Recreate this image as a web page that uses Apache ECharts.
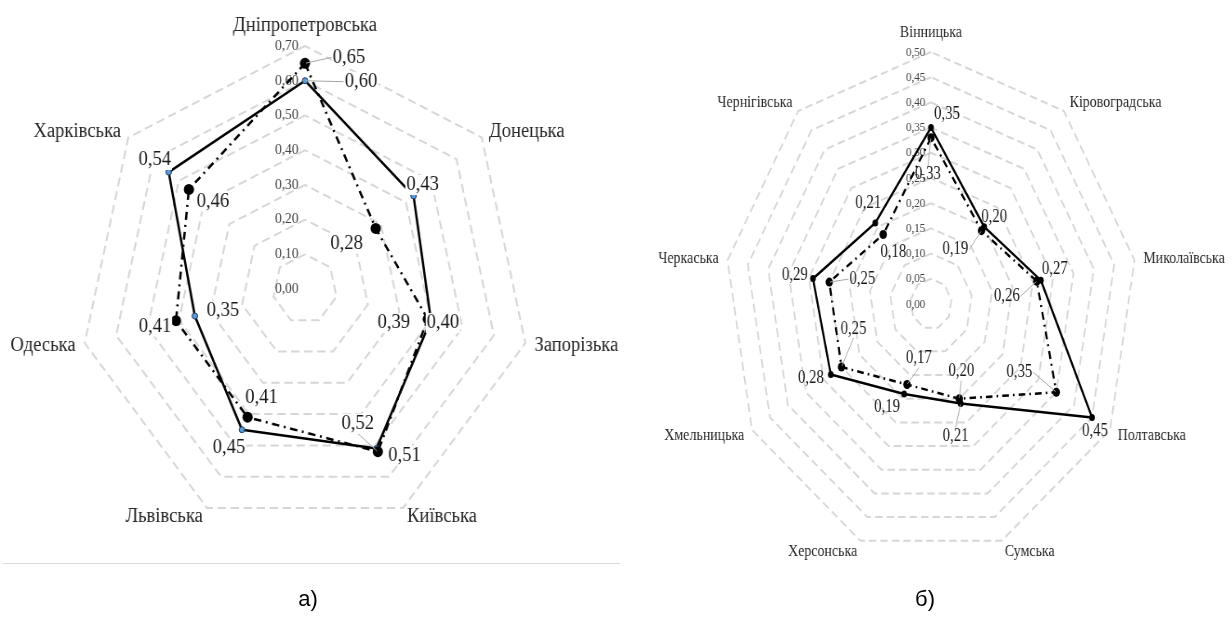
<!DOCTYPE html>
<html>
<head>
<meta charset="utf-8">
<title>Radar charts</title>
<script src="https://cdn.jsdelivr.net/npm/echarts@6.0.0/dist/echarts.min.js"></script>
<style>
  html, body { margin: 0; padding: 0; background: #fff; }
  #page { position: relative; width: 1232px; height: 634px; overflow: hidden; }
  .chart { position: absolute; top: 0; height: 634px; }
  .rule { position: absolute; left: 3px; width: 617px; top: 563px; border-top: 1px solid #d9d9d9; }
  .cap { position: absolute; top: 586px; width: 60px; text-align: center;
         font: 22px 'Liberation Sans', Arial, sans-serif; color: #000; }
</style>
</head>
<body>
<div id="page">
  <div id="chartA" class="chart"></div>
  <div id="chartB" class="chart"></div>
  <div class="rule"></div>
  <div class="cap" style="left:278px">а)</div>
  <div class="cap" style="left:895px">б)</div>
</div>
<script>
// ---- data (clockwise from the top axis) ----
const regionsA = ['Дніпропетровська', 'Донецька', 'Запорізька', 'Київська', 'Львівська', 'Одеська', 'Харківська'];
const solidA = [0.60, 0.43, 0.40, 0.51, 0.45, 0.35, 0.54];
const dashA = [0.65, 0.28, 0.39, 0.52, 0.41, 0.41, 0.46];
const maxA = 0.70, stepA = 0.10;

const regionsB = ['Вінницька', 'Кіровоградська', 'Миколаївська', 'Полтавська', 'Сумська',
  'Херсонська', 'Хмельницька', 'Черкаська', 'Чернігівська'];
const solidB = [0.35, 0.20, 0.27, 0.45, 0.21, 0.19, 0.28, 0.29, 0.21];
const dashB = [0.33, 0.19, 0.26, 0.35, 0.20, 0.17, 0.25, 0.25, 0.18];
const maxB = 0.50, stepB = 0.05;

// where each value label sits relative to its point: [dx, dy, leader line]
const solidTagA = [[56, 1, 1], [9, -11], [12, 3], [28, 7], [-13, 18], [28, -5], [-14, -12]];
const dashTagA = [[44, -6, 1], [-29, 15], [-34, 4], [-20, -28, 1], [14, -19], [-21, 6], [24, 12]];
const solidTagB = [[16, -13], [10, -10], [14, -11], [3, 14], [-5, 33, 1], [-17, 13], [-20, 4], [-18, -3], [-7, -20]];
const dashTagB = [[-3, 37, 1], [-26, 19, 1], [-30, 15, 1], [-37, -20, 1], [2, -27, 1], [12, -26, 1], [12, -38, 1], [33, -3, 1], [10, 18]];

const serif = "'Liberation Serif', 'Times New Roman', serif";
const fmt = v => v.toFixed(2).replace('.', ',');

// echarts runs the radar counter-clockwise, so flip the order after the first axis
function ccwOrder(n) {
  const o = [0];
  for (let k = n - 1; k > 0; k--) o.push(k);
  return o;
}

function drawRadar(id, c) {
  const el = document.getElementById(id);
  const ox = 340; // radar centre inside the (unsqueezed) canvas
  el.style.left = (c.cx - ox) + 'px';
  el.style.width = c.w + 'px';
  // the source picture was squeezed sideways, so is this one
  el.style.transform = 'scaleX(' + c.sx + ')';
  el.style.transformOrigin = ox + 'px 0';

  const chart = echarts.init(el);
  const n = c.names.length;
  const order = ccwOrder(n);
  const pick = a => order.map(i => a[i]);
  const slot = i => (i === 0 ? 0 : n - i);

  const tags = [], shifts = [];
  [[c.solid, c.solidTags], [c.dash, c.dashTags]].forEach(([vals, nudges]) => {
    vals.forEach((v, i) => {
      tags.push({ value: pick(vals), dim: slot(i), labelLine: { show: !!nudges[i][2] } });
      shifts.push([nudges[i][0] / c.sx, nudges[i][1]]);
    });
  });

  chart.setOption({
    animation: false,
    radar: {
      center: [ox, c.cy],
      radius: c.r,
      startAngle: 90,
      shape: 'polygon',
      splitNumber: Math.round(c.max / c.step),
      nameGap: c.nameGap,
      indicator: pick(c.names).map((name, i) => {
        const ind = { name: name, min: 0, max: c.max };
        if (i === 0) ind.axisLabel = { show: true };
        return ind;
      }),
      axisName: { color: '#262626', fontFamily: serif, fontSize: c.nameSize },
      axisLine: { show: false },
      axisTick: { show: false },
      axisLabel: { show: false, formatter: v => fmt(v), fontFamily: serif, fontSize: c.tickSize, color: '#404040', margin: 7 },
      splitLine: { lineStyle: { color: '#d6d6d6', width: 2, type: [9, 5] } },
      splitArea: { show: false }
    },
    series: [
      {
        type: 'radar',
        z: 2,
        data: [
          { value: pick(c.solid), symbol: 'circle', symbolSize: c.solidDot, itemStyle: c.solidItem,
            lineStyle: { color: '#000', width: 2.5, type: 'solid' } },
          { value: pick(c.dash), symbol: 'circle', symbolSize: c.dashDot, itemStyle: { color: '#000' },
            lineStyle: { color: '#000', width: 2.5, type: [8, 5, 2, 5] } }
        ]
      },
      {
        type: 'radar',
        z: 3,
        symbol: 'circle',
        symbolSize: 2,
        itemStyle: { color: 'rgba(0,0,0,0)' },
        lineStyle: { width: 0, opacity: 0 },
        label: {
          show: true,
          position: 'inside',
          fontFamily: serif,
          fontSize: c.valueSize,
          color: '#1a1a1a',
          backgroundColor: c.labelBg,
          padding: [0, 1],
          formatter: p => (p.dimensionIndex === p.data.dim ? fmt(p.value) : '')
        },
        labelLine: { lineStyle: { color: '#a6a6a6', width: 1 } },
        labelLayout: p => (p.text ? { dx: shifts[p.dataIndex][0], dy: shifts[p.dataIndex][1] } : {}),
        data: tags
      }
    ]
  });
}

drawRadar('chartA', {
  names: regionsA, solid: solidA, dash: dashA, max: maxA, step: stepA,
  solidTags: solidTagA, dashTags: dashTagA,
  cx: 305, cy: 289, r: 243, sx: 0.93, w: 700, nameGap: 10,
  nameSize: 20, tickSize: 14.5, valueSize: 20,
  solidDot: 6, dashDot: 11, labelBg: '#fff',
  solidItem: { color: '#5b9bd5', borderColor: '#1f3864', borderWidth: 1 }
});

drawRadar('chartB', {
  names: regionsB, solid: solidB, dash: dashB, max: maxB, step: stepB,
  solidTags: solidTagB, dashTags: dashTagB,
  cx: 931, cy: 304, r: 252, sx: 0.82, w: 740, nameGap: 11,
  nameSize: 17, tickSize: 13.5, valueSize: 18,
  solidDot: 7, dashDot: 9, labelBg: 'transparent',
  solidItem: { color: '#000' }
});
</script>
</body>
</html>
